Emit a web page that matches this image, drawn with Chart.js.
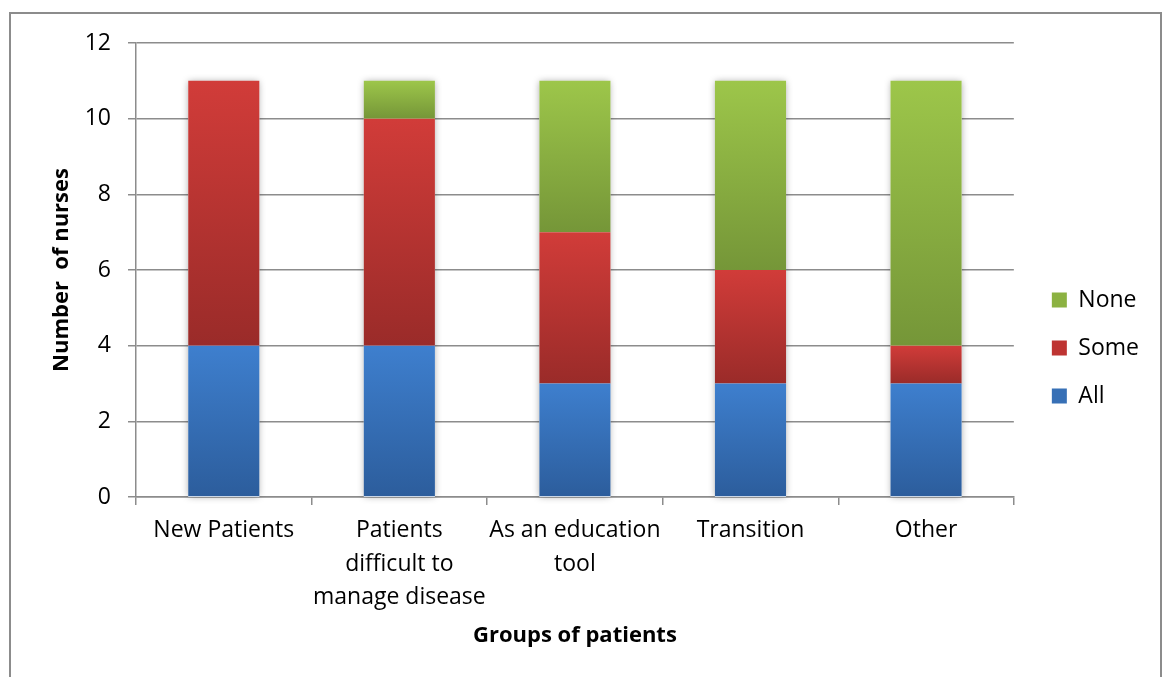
<!DOCTYPE html>
<html><head><meta charset="utf-8">
<script src="https://cdn.jsdelivr.net/npm/chart.js@4.4.1/dist/chart.umd.min.js"></script>
<style>html,body{margin:0;padding:0;background:#fff}#wrap{width:1164px;height:677px}</style>
</head><body><div id="wrap"><canvas id="c" width="1164" height="677"></canvas></div>
<script>
const categories = [["New Patients"], ["Patients", "difficult to", "manage disease"], ["As an education", "tool"], ["Transition"], ["Other"]];
const allValues = [4, 4, 3, 3, 3];
const someValues = [7, 6, 4, 3, 1];
const noneValues = [0, 1, 4, 5, 7];
const seriesNames = ["All", "Some", "None"];
const yTicks = [0, 2, 4, 6, 8, 10, 12];

const FONT = "'Open Sans', 'Noto Sans', sans-serif";
const palettes = [
  {top: 'rgb(62,127,206)', bottom: 'rgb(44,93,156)', mid: 'rgb(55,112,182)'},
  {top: 'rgb(209,60,57)', bottom: 'rgb(154,43,41)', mid: 'rgb(190,52,50)'},
  {top: 'rgb(157,198,74)', bottom: 'rgb(117,150,56)', mid: 'rgb(140,178,66)'}
];
const seriesValues = [allValues, someValues, noneValues];

function gradFill(idx) {
  return function(c) {
    const chart = c.chart;
    const p = palettes[idx];
    if (c.type !== 'data' || !chart.chartArea || !chart.scales.y) return p.mid;
    let base = 0;
    for (let k = 0; k < idx; k++) base += seriesValues[k][c.dataIndex];
    const top = base + seriesValues[idx][c.dataIndex];
    const y0 = chart.scales.y.getPixelForValue(top);
    const y1 = chart.scales.y.getPixelForValue(base);
    if (!isFinite(y0) || !isFinite(y1) || y1 - y0 < 0.5) return p.mid;
    const g = chart.ctx.createLinearGradient(0, y0, 0, y1);
    g.addColorStop(0, p.top);
    g.addColorStop(1, p.bottom);
    return g;
  };
}

const framePlugin = {
  id: 'frame',
  beforeDraw(chart) {
    const ctx = chart.ctx;
    ctx.save();
    ctx.fillStyle = '#fff';
    ctx.fillRect(0, 0, chart.width, chart.height);
    ctx.strokeStyle = '#8c8c8c';
    ctx.lineWidth = 2;
    ctx.strokeRect(10, 13, chart.width - 13, chart.height + 20);
    ctx.restore();
  }
};

const shadowPlugin = {
  id: 'barShadow',
  beforeDatasetsDraw(chart) {
    const ctx = chart.ctx;
    const meta0 = chart.getDatasetMeta(0);
    const y = chart.scales.y;
    ctx.save();
    ctx.shadowColor = 'rgba(0,0,0,0.35)';
    ctx.shadowBlur = 7;
    ctx.fillStyle = '#fff';
    meta0.data.forEach((el, i) => {
      let total = 0;
      seriesValues.forEach(s => total += s[i]);
      const t = y.getPixelForValue(total);
      const b = y.getPixelForValue(0);
      ctx.fillRect(el.x - el.width / 2, t, el.width, b - t);
    });
    ctx.restore();
  }
};

function legendLabels(chart) {
  return chart.data.datasets.map((ds, i) => ({
    text: ds.label,
    fillStyle: palettes[i].mid,
    strokeStyle: palettes[i].mid,
    lineWidth: 0,
    hidden: false,
    datasetIndex: i,
    fontColor: '#000'
  })).reverse();
}

new Chart(document.getElementById('c'), {
  type: 'bar',
  data: {
    labels: categories,
    datasets: seriesNames.map((name, i) => ({
      label: name,
      data: seriesValues[i],
      backgroundColor: gradFill(i),
      borderWidth: 0,
      barPercentage: 0.81,
      categoryPercentage: 0.5
    }))
  },
  options: {
    responsive: false,
    animation: false,
    events: [],
    layout: {padding: {left: 40, right: 15, top: 43, bottom: 24}},
    plugins: {
      tooltip: {enabled: false},
      legend: {
        position: 'right',
        labels: {
          boxWidth: 15, boxHeight: 15, padding: 25, color: '#000',
          font: {family: FONT, size: 23},
          generateLabels: legendLabels
        }
      }
    },
    scales: {
      x: {
        stacked: true,
        offset: true,
        grid: {display: true, drawOnChartArea: false, drawTicks: true, tickLength: 8, color: '#8c8c8c', lineWidth: 1.5, offset: true},
        border: {display: true, color: '#8c8c8c', width: 1.5},
        ticks: {color: '#000', font: {family: FONT, size: 23, lineHeight: 1.457}, padding: 9, maxRotation: 0, autoSkip: false},
        title: {display: true, text: 'Groups of patients', color: '#000', font: {family: FONT, size: 22, weight: 'bold', lineHeight: 1.2}, padding: {top: 0, bottom: 4}},
        afterFit(s) { s.height = 156; }
      },
      y: {
        stacked: true,
        min: 0, max: 12,
        afterBuildTicks(s) { s.ticks = yTicks.map(v => ({value: v})); },
        grid: {color: '#8c8c8c', lineWidth: 1.5, tickLength: 8},
        border: {display: true, color: '#8c8c8c', width: 1.5},
        ticks: {color: '#000', font: {family: FONT, size: 23}, padding: 17},
        title: {display: true, text: 'Number  of nurses', color: '#000', font: {family: FONT, size: 22, weight: 'bold', lineHeight: 1.2}, padding: {top: 9, bottom: 0}},
        afterFit(s) { s.width = 96; }
      },
      gap: {
        type: 'linear', position: 'right', display: true,
        grid: {display: false, drawTicks: false}, border: {display: false},
        ticks: {display: false}, title: {display: false},
        afterFit(s) { s.width = 13; }
      }
    }
  },
  plugins: [framePlugin, shadowPlugin]
});
</script></body></html>
